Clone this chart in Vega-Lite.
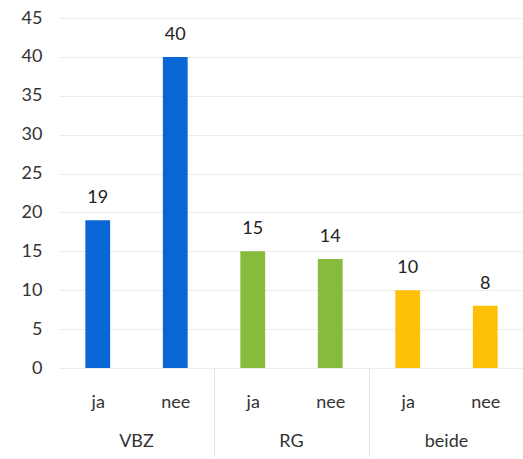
{
  "$schema": "https://vega.github.io/schema/vega-lite/v6.json",
  "padding": {"top": 9, "left": 21, "right": 0, "bottom": 0},
  "data": {"values": [
    {"group": "VBZ", "answer": "ja", "count": 19},
    {"group": "VBZ", "answer": "nee", "count": 40},
    {"group": "RG", "answer": "ja", "count": 15},
    {"group": "RG", "answer": "nee", "count": 14},
    {"group": "beide", "answer": "ja", "count": 10},
    {"group": "beide", "answer": "nee", "count": 8}
  ]},
  "facet": {
    "column": {
      "field": "group", "type": "nominal", "sort": ["VBZ", "RG", "beide"],
      "header": {"title": null, "labelOrient": "bottom", "labelFontSize": 18, "labelFont": "Lato", "labelColor": "#333333", "labelPadding": -24}
    }
  },
  "spacing": 0,
  "spec": {
    "width": 155,
    "height": 350,
    "encoding": {
      "x": {
        "field": "answer", "type": "nominal", "sort": ["ja", "nee"],
        "scale": {"paddingInner": 0.68, "paddingOuter": 0.34},
        "axis": {
          "title": null, "labelAngle": 0, "labelFontSize": 18, "labelFont": "Lato", "labelColor": "#333333",
          "domainColor": "#d9d9d9", "domainWidth": 1,
          "tickOffset": 38.75, "labelOffset": -38.75, "tickSize": 88, "labelPadding": -63,
          "tickColor": {"condition": {"test": "datum.value === 'nee'", "value": "#e3e3e3"}, "value": "transparent"}
        }
      },
      "y": {
        "field": "count", "type": "quantitative", "scale": {"domain": [0, 45]},
        "axis": {
          "title": null, "values": [0, 5, 10, 15, 20, 25, 30, 35, 40, 45], "domain": false, "ticks": false,
          "labelPadding": 17, "labelFontSize": 18, "labelFont": "Lato", "labelColor": "#333333", "gridColor": "#ececec"
        }
      }
    },
    "layer": [
      {
        "mark": {"type": "bar"},
        "encoding": {
          "color": {"field": "group", "type": "nominal", "scale": {"domain": ["VBZ", "RG", "beide"], "range": ["#0a66d6", "#86bb3b", "#ffc107"]}, "legend": null}
        }
      },
      {
        "mark": {"type": "text", "baseline": "bottom", "dy": -13, "fontSize": 18, "font": "Lato", "color": "#222222"},
        "encoding": {"text": {"field": "count", "type": "quantitative"}}
      }
    ]
  },
  "config": {"view": {"stroke": null}}
}
